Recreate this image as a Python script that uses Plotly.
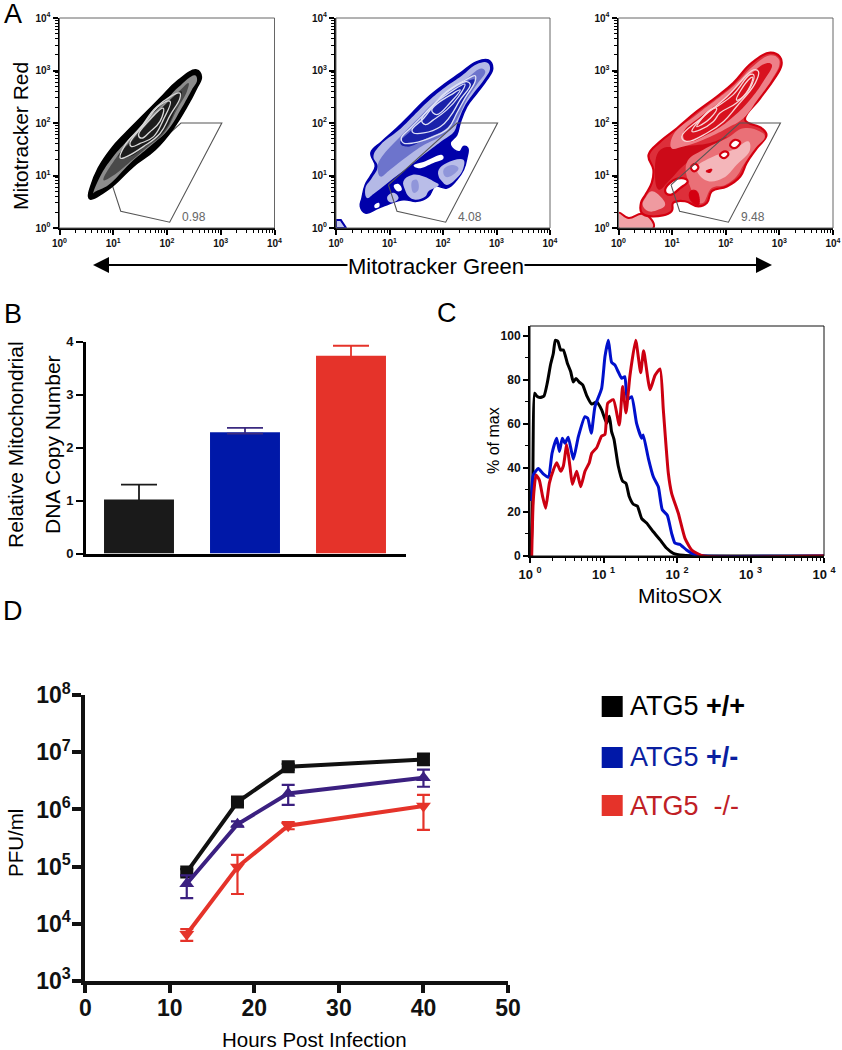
import plotly.graph_objects as go

W, H = 842, 1050
FONT = "Liberation Sans"

# ---------- Panel A: gate and contour outlines, (log10 green, log10 red) ----------
GATE = [(0.98, 0.82), (1.14, 0.32), (2.05, 0.11), (3.02, 2.0), (2.26, 2.0)]
GATE_LABELS = ["0.98", "4.08", "9.48"]

A1_OUTER = [(.54,.60),(.58,.79),(.72,1.14),(.97,1.52),(1.22,1.80),(1.56,2.15),(1.87,2.47),(2.18,2.79),(2.55,3.01),(2.64,2.88),(2.55,2.66),(2.37,2.31),(2.12,1.90),(1.78,1.49),(1.37,1.17),(.94,.76),(.57,.55)]
A1_L2 = [(.63,.66),(.755,.98),(1.0,1.36),(1.28,1.68),(1.62,2.06),(1.93,2.37),(2.21,2.68),(2.52,2.91),(2.56,2.82),(2.46,2.63),(2.27,2.28),(2.02,1.87),(1.68,1.55),(1.31,1.23),(.91,.82),(.66,.69)]
A1_L3 = [(.82,.91),(1.07,1.36),(1.34,1.68),(1.65,2.03),(1.96,2.34),(2.24,2.62),(2.40,2.76),(2.37,2.6),(2.18,2.25),(1.96,1.83),(1.65,1.55),(1.28,1.23),(.97,.98)]
A1_L4 = [(1.10,1.36),(1.37,1.68),(1.68,2.03),(1.99,2.37),(2.27,2.6),(2.15,2.25),(1.93,1.83),(1.62,1.58),(1.31,1.36)]
A1_R1 = [(1.13,1.33),(1.22,1.58),(1.5,1.9),(1.81,2.31),(2.24,2.57),(2.24,2.47),(2.06,2.15),(1.87,1.8),(1.56,1.55),(1.25,1.36)]
A1_R2 = [(1.31,1.61),(1.56,1.96),(1.87,2.34),(2.06,2.41),(1.93,2.06),(1.75,1.74),(1.5,1.61),(1.34,1.55)]
A1_R3 = [(1.47,1.77),(1.65,2.03),(1.93,2.28),(1.87,2.03),(1.68,1.83),(1.53,1.71)]

A2_OUTER = [(.454,.412),(.485,.57),(.547,.824),(.64,.983),(.734,1.173),(.653,1.439),(.858,1.648),(1.138,1.902),(1.418,2.187),(1.698,2.472),(2.009,2.726),(2.32,2.948),(2.631,3.17),(2.849,3.2),(2.93,3.043),(2.818,2.821),(2.631,2.567),(2.445,2.314),(2.32,1.997),(2.258,1.775),(2.134,1.616),(2.208,1.49),(2.32,1.458),(2.383,1.553),(2.463,1.521),(2.445,1.331),(2.383,1.109),(2.258,.919),(2.072,.761),(1.854,.792),(1.729,.602),(1.512,.507),(1.263,.539),(.952,.444),(.796,.38),(.547,.285)]
A2_PALE = [(.70,1.36),(.83,1.58),(1.17,1.86),(1.45,2.14),(1.73,2.42),(2.04,2.68),(2.35,2.90),(2.63,3.12),(2.83,3.15),(2.88,3.04),(2.77,2.83),(2.58,2.58),(2.40,2.31),(2.27,2.0),(2.21,1.84),(2.01,1.68),(1.76,1.49),(1.45,1.24),(1.08,.95),(.73,.67),(.58,.57),(.55,.76),(.67,.95),(.78,1.17)]
A2_MID = [(.86,1.36),(1.20,1.74),(1.51,2.06),(1.82,2.38),(2.13,2.63),(2.44,2.85),(2.72,3.04),(2.79,2.98),(2.63,2.73),(2.44,2.44),(2.29,2.12),(2.16,1.90),(1.95,1.74),(1.64,1.58),(1.33,1.36),(1.01,1.11),(.83,.98),(.78,1.17)]
A2_DARK = [(1.20,1.62),(1.45,1.90),(1.82,2.28),(2.13,2.57),(2.51,2.82),(2.60,2.82),(2.44,2.54),(2.26,2.19),(2.07,1.90),(1.70,1.71),(1.33,1.55)]
A2_R1 = [(1.22,1.71),(1.39,1.90),(1.76,2.28),(2.07,2.60),(2.44,2.83),(2.60,2.90),(2.60,2.79),(2.41,2.47),(2.26,2.19),(2.10,1.90),(1.82,1.74),(1.45,1.62),(1.26,1.62)]
A2_R2 = [(1.42,1.87),(1.64,2.09),(1.88,2.41),(2.13,2.63),(2.44,2.79),(2.51,2.73),(2.32,2.44),(2.13,2.12),(1.95,1.93),(1.64,1.81),(1.45,1.81)]
A2_R3 = [(1.60,2.06),(1.82,2.35),(2.13,2.58),(2.41,2.74),(2.29,2.50),(2.07,2.25),(1.82,2.06),(1.67,1.97)]
A2_R4 = [(1.79,2.25),(2.20,2.57),(2.32,2.63),(2.13,2.38),(1.88,2.16)]
A2_ISL_C = [(1.26,.89),(1.42,1.01),(1.64,.98),(1.82,.89),(1.92,.82),(1.73,.70),(1.67,.60),(1.48,.54),(1.36,.60),(1.29,.73)]
A2_MID_C = [(1.42,.89),(1.51,.92),(1.54,.73),(1.45,.67)]
A2_ISL_D = [(1.92,1.11),(2.07,1.24),(2.38,1.30),(2.38,1.14),(2.26,.95),(2.07,.82),(1.98,.89),(1.92,.98)]
A2_MID_D = [(2.01,1.11),(2.16,1.20),(2.29,1.14),(2.13,.98),(2.04,.98)]
A2_ISL_B = [(.96,.60),(1.08,.67),(1.17,.57),(1.08,.49),(.98,.51)]
A2_HOLE_1 = [(1.45,1.19),(1.67,1.27),(1.98,1.39),(2.01,1.33),(1.82,1.24),(1.54,1.14)]
A2_HOLE_2 = [(1.08,.81),(1.17,.84),(1.23,.73),(1.15,.70)]
A2_HOLE_3 = [(.72,.44),(.80,.48),(.81,.41),(.73,.38)]
A2_CORNER = [(0,.15),(.09,.15),(.19,0),(0,0)]

A3_OUTER = [(.43,.29),(.42,.48),(.50,.63),(.62,.86),(.65,1.11),(.56,1.39),(.78,1.65),(1.09,1.90),(1.46,2.22),(1.83,2.50),(2.14,2.76),(2.48,3.14),(2.83,3.34),(3.01,3.26),(3.04,3.11),(2.89,2.82),(2.64,2.47),(2.36,2.06),(2.67,1.90),(2.76,1.77),(2.58,1.52),(2.39,1.24),(2.27,.98),(2.02,.79),(1.74,.70),(1.65,.48),(1.49,.41),(1.24,.51),(1.02,.48),(.99,.32),(.62,.22)]
A3_CORNER = [(0,.29),(.19,.19),(.43,.27),(.59,.19),(.65,0),(0,0)]
A3_DEEP = [(.78,1.49),(1.15,1.55),(1.71,1.62),(2.02,1.74),(1.27,1.24),(.96,.92),(.75,.73),(.68,1.05)]
A3_BODY = [(1.27,1.24),(1.58,1.49),(2.02,1.71),(2.33,1.90),(2.64,1.84),(2.73,1.74),(2.55,1.52),(2.33,1.20),(2.20,.98),(1.99,.82),(1.74,.76),(1.58,.48),(1.49,.48),(1.37,.70)]
A3_BODY_PALE = [(1.46,1.14),(1.77,1.36),(2.14,1.49),(2.42,1.65),(2.45,1.48),(2.20,1.20),(1.95,.95),(1.65,.90)]
A3_LOW = [(.45,.44),(.50,.57),(.62,.70),(.78,.60),(.87,.44),(.75,.35),(.56,.32)]
A3_U1 = [(1.02,1.77),(1.46,2.16),(1.83,2.45),(2.17,2.73),(2.52,3.09),(2.83,3.29),(2.98,3.23),(3.0,3.11),(2.86,2.83),(2.61,2.47),(2.33,2.09),(2.02,1.90),(1.71,1.74),(1.21,1.55),(.99,1.52)]
A3_U2 = [(1.21,1.81),(1.58,2.16),(2.02,2.5),(2.45,2.92),(2.76,3.14),(2.86,3.11),(2.70,2.79),(2.45,2.44),(2.14,2.12),(1.71,1.81),(1.27,1.65)]
A3_R1 = [(1.18,1.74),(1.58,2.12),(2.02,2.50),(2.52,3.01),(2.61,2.98),(2.55,2.76),(2.20,2.31),(1.96,2.03),(1.65,1.81),(1.27,1.65)]
A3_R2 = [(1.37,1.84),(1.65,2.19),(1.83,2.31),(2.14,2.54),(2.45,2.92),(2.52,2.92),(2.45,2.66),(2.2,2.38),(1.89,2.19),(1.77,2.03),(1.52,1.87)]
A3_R3 = [(2.2,2.44),(2.42,2.82),(2.50,2.87),(2.42,2.63),(2.24,2.44)]
A3_R4 = [(1.46,1.93),(1.71,2.25),(1.83,2.28),(1.71,2.09),(1.55,1.97)]
A3_HOLE_1 = [(.87,.70),(.96,.86),(1.18,.95),(1.29,.89),(1.15,.76),(.96,.63)]
A3_HOLE_2 = [(2.08,1.58),(2.17,1.68),(2.27,1.63),(2.17,1.52)]
A3_HOLE_3 = [(1.89,1.39),(1.99,1.46),(2.05,1.41),(1.97,1.33)]
A3_HOLE_4 = [(1.35,1.15),(1.43,1.22),(1.49,1.15),(1.41,1.08)]
A3_SPOT_1 = [(1.63,1.08),(1.74,1.12),(1.71,1.06)]
A3_SPOT_2 = [(1.34,.70),(1.46,.70),(1.49,.44),(1.34,.54)]

# ---------- Panel B ----------
BAR_POS = [1, 2, 3]
BAR_VALUES = [1.02, 2.29, 3.73]
BAR_UPPER = [1.30, 2.37, 3.92]
BAR_COLORS = ["#1a1a1a", "#0018a8", "#e5332a"]
BAR_ERR_COLORS = ["#1a1a1a", "#3b2a80", "#e5332a"]

# ---------- Panel C: (log10 MitoSOX, % of max) ----------
HIST_BLACK_X = [.014,.036,.063,.09,.136,.19,.236,.28,.317,.345,.38,.417,.454,.508,.553,.59,.626,.67,.717,.77,.84,.907,.975,1.043,1.08,1.11,1.143,1.2,1.26,1.306,1.35,1.406,1.46,1.52,1.587,1.678,1.77,1.86,1.95,2.086,2.27,4]
HIST_BLACK_Y = [0,25,74,72.7,72,72.7,78.8,87,92,98,97.5,93.6,93.6,87.6,83.8,79,80.7,79,77.7,73,69,70,66.4,60.3,63.5,56.5,53,41,34,33,27,23.5,22.7,17,15,11,7.3,3.5,1.2,.3,0,0]
HIST_BLUE_X = [.014,.045,.113,.18,.25,.30,.363,.40,.44,.476,.52,.59,.658,.748,.785,.834,.884,.975,1.02,1.066,1.11,1.156,1.2,1.247,1.29,1.324,1.383,1.45,1.52,1.54,1.61,1.678,1.746,1.8,1.868,1.927,1.973,2.04,2.13,2.22,2.38,4]
HIST_BLUE_Y = [25,36.8,39.8,37.3,35.8,46.7,53.5,47.5,53.5,51.2,54,44,54.2,63.3,62.6,55.8,67.9,76.2,90.6,98,88,86.7,83.7,80.7,81.5,71,72.4,60.3,53.5,55,44.4,36,31.5,21,18.5,10.3,5.8,5.3,2.7,.9,0,0]
HIST_RED_X = [.023,.045,.082,.127,.172,.213,.263,.317,.363,.417,.454,.5,.544,.576,.635,.69,.748,.807,.84,.907,.975,1.02,1.057,1.134,1.215,1.26,1.306,1.36,1.438,1.506,1.546,1.633,1.7,1.77,1.814,1.882,1.927,2.018,2.109,2.2,2.358,4]
HIST_RED_Y = [0,25.5,36.8,34.5,27,21.7,33,39,42.4,38.5,40.9,50.6,40.6,32.6,38.5,31.5,38.5,42.4,46.7,49.2,54.5,55.2,69.4,71,59.5,77,65,82,98,83.3,93.3,75.5,82,85,66.4,37.6,28.5,19.4,8,2.7,0,0]

# ---------- Panel D ----------
HOURS = [12, 18, 24, 40]
PFU_WT = [8e4, 1.35e6, 5.6e6, 7.5e6]
PFU_WT_LO = [7e4, 1.2e6, 5e6, 6e6]
PFU_WT_HI = [9e4, 1.5e6, 6.3e6, 9.5e6]
PFU_HET = [5e4, 5.5e5, 1.9e6, 3.6e6]
PFU_HET_LO = [2.8e4, 5e5, 1.2e6, 2.5e6]
PFU_HET_HI = [7e4, 6.2e5, 2.7e6, 5e6]
PFU_KO = [6.5e3, 9.8e4, 5.2e5, 1.15e6]
PFU_KO_LO = [5e3, 3.3e4, 4.5e5, 4.4e5]
PFU_KO_HI = [8e3, 1.6e5, 6e5, 1.8e6]
LEGEND_LABELS = ["ATG5 <b>+/+</b>", "ATG5 <b>+/-</b>", "ATG5  -/-"]
LEGEND_TEXT_COLORS = ["#000000", "#0a1fa0", "#c02025"]
LEGEND_SWATCHES = ["#000000", "#0018a8", "#e5332a"]


def xdom(a, b):
    return [a / W, b / W]


def ydom(top, bottom):
    return [1 - bottom / H, 1 - top / H]


def sup(k, sep=""):
    return f"<b>10{sep}<sup>{k}</sup></b>"


def sfx(n):
    return "" if n == 1 else str(n)


MINOR_TICKS = [m * 10 ** k for k in range(4) for m in range(2, 10)]
DECADES = [1, 10, 100, 1000, 10000]

fig = go.Figure()


def log_axes(n, xd, yd, sep="", size=10):
    xa = dict(domain=xd, type="log", range=[0, 4], anchor=f"y{sfx(n)}", tickmode="array", tickvals=DECADES,
              ticktext=[sup(i, sep) for i in range(5)], ticks="outside", ticklen=5, tickwidth=1.5, automargin=False,
              tickcolor="black", showline=True, linecolor="black", linewidth=2, showgrid=False, zeroline=False,
              tickfont=dict(family=FONT, size=size, color="#111"),
              minor=dict(ticks="outside", ticklen=3, tickwidth=1, tickcolor="black", tickmode="array",
                         tickvals=MINOR_TICKS, showgrid=False))
    ya = dict(domain=yd, type="log", range=[0, 4], anchor=f"x{sfx(n)}", tickmode="array", tickvals=DECADES,
              ticktext=[sup(i) for i in range(5)], ticks="outside", ticklen=5, tickwidth=1.5, automargin=False,
              tickcolor="black", showline=True, linecolor="black", linewidth=2, showgrid=False, zeroline=False,
              tickfont=dict(family=FONT, size=size, color="#111"),
              minor=dict(ticks="outside", ticklen=3, tickwidth=1, tickcolor="black", tickmode="array",
                         tickvals=MINOR_TICKS, showgrid=False))
    fig.layout[f"xaxis{sfx(n)}"] = xa
    fig.layout[f"yaxis{sfx(n)}"] = ya


def poly(n, pts, fill=None, line=None, width=1.0, smooth=True, closed=True):
    p = list(pts) + ([pts[0]] if closed else [])
    fig.add_trace(go.Scatter(
        x=[10 ** a for a, _ in p], y=[10 ** b for _, b in p], xaxis=f"x{sfx(n)}", yaxis=f"y{sfx(n)}", mode="lines",
        line=dict(color=line or "rgba(0,0,0,0)", width=width, shape="spline" if smooth else "linear", smoothing=1.2),
        fill="toself" if fill else "none", fillcolor=fill, hoverinfo="skip", showlegend=False))


def gate(n):
    poly(n, GATE, line="#555555", width=1.1, smooth=False)


# Panel A axes
log_axes(1, xdom(59.5, 274.5), ydom(18, 228))
log_axes(2, xdom(336, 550), ydom(18, 228))
log_axes(3, xdom(618.5, 833), ydom(18, 228))

# Panel A1
gate(1)
poly(1, A1_OUTER, fill="#000000", line="#000000", width=1.5)
poly(1, A1_L2, fill="#8c8c8c")
poly(1, A1_L3, fill="#4a4a4a")
poly(1, A1_L4, fill="#1c1c1c")
for r in (A1_R1, A1_R2, A1_R3):
    poly(1, r, line="#d8d8d8", width=1.3)

# Panel A2
poly(2, A2_CORNER, fill="#c4c8ec", line="#0000aa", width=2, smooth=False)
poly(2, A2_OUTER, fill="#0000aa", line="#0000aa", width=1.5)
poly(2, A2_PALE, fill="#b4b9e6")
poly(2, A2_MID, fill="#6d74cc")
poly(2, A2_DARK, fill="#1a22aa")
for r in (A2_R1, A2_R2, A2_R3, A2_R4):
    poly(2, r, line="#dfe2f6", width=1.3)
for isl in (A2_ISL_C, A2_ISL_D, A2_ISL_B):
    poly(2, isl, fill="#b9bde8")
for m in (A2_MID_C, A2_MID_D):
    poly(2, m, fill="#9096da")
for h in (A2_HOLE_1, A2_HOLE_2, A2_HOLE_3):
    poly(2, h, fill="#ffffff")
gate(2)

# Panel A3
poly(3, A3_CORNER, fill="#f0a3a8", line="#d40010", width=2)
poly(3, A3_OUTER, fill="#dd2f3a", line="#d40010", width=2.2)
poly(3, A3_DEEP, fill="#cc0a18")
poly(3, A3_BODY, fill="#ea7077")
poly(3, A3_BODY_PALE, fill="#f4b6ba")
poly(3, A3_LOW, fill="#ef9aa0")
poly(3, A3_U1, fill="#ee8088")
poly(3, A3_U2, fill="#d8121f")
for r in (A3_R1, A3_R2, A3_R3, A3_R4):
    poly(3, r, line="#f8d5d7", width=1.3)
for h in (A3_HOLE_1, A3_HOLE_2, A3_HOLE_3, A3_HOLE_4):
    poly(3, h, fill="#ffffff", line="#d40010", width=2.2)
for s in (A3_SPOT_1, A3_SPOT_2):
    poly(3, s, fill="#d40010", line="#d40010", width=1)
gate(3)

# Panel B (the lower cap of each error bar is tucked inside its bar)
for i in range(3):
    fig.add_trace(go.Bar(x=[BAR_POS[i]], y=[BAR_VALUES[i]], xaxis="x4", yaxis="y4", width=0.66,
                         marker=dict(color=BAR_COLORS[i], line=dict(width=0)), showlegend=False, hoverinfo="skip",
                         error_y=dict(type="data", symmetric=False, array=[BAR_UPPER[i] - BAR_VALUES[i]],
                                      arrayminus=[0.03], color=BAR_ERR_COLORS[i], thickness=1.8, width=18)))
fig.update_layout(
    xaxis4=dict(domain=xdom(86, 405.7), range=[0.5, 3.516], anchor="y4", showticklabels=False, ticks="", automargin=False,
                showline=True, linecolor="black", linewidth=3, showgrid=False, zeroline=False),
    yaxis4=dict(domain=ydom(341.5, 553.5), range=[0, 4], anchor="x4", tickvals=[0, 1, 2, 3, 4], automargin=False,
                ticktext=[f"<b>{v}</b>" for v in [0, 1, 2, 3, 4]], ticks="outside", ticklen=7, tickwidth=2,
                tickcolor="black", showline=True, linecolor="black", linewidth=3, showgrid=False, zeroline=False,
                tickfont=dict(family=FONT, size=13, color="#111")),
)

# Panel C
log_axes(5, xdom(530, 824), ydom(326, 556), sep=" ", size=13)
fig.update_layout(yaxis5=dict(type="linear", range=[0, 104.5], tickmode="array", tickvals=[0, 20, 40, 60, 80, 100],
                              ticktext=[f"<b>{v}</b>" for v in [0, 20, 40, 60, 80, 100]],
                              minor=dict(ticks="outside", ticklen=3, tickwidth=1, tickcolor="black", tickmode="array",
                                         tickvals=[10, 30, 50, 70, 90], showgrid=False),
                              tickfont=dict(family=FONT, size=12, color="#111")))
for xs, ys, c in ((HIST_BLACK_X, HIST_BLACK_Y, "#000000"), (HIST_BLUE_X, HIST_BLUE_Y, "#0010cc"),
                  (HIST_RED_X, HIST_RED_Y, "#cc0011")):
    fig.add_trace(go.Scatter(x=[10 ** v for v in xs], y=ys, xaxis="x5", yaxis="y5", mode="lines",
                             line=dict(color=c, width=3, shape="spline", smoothing=0.5), hoverinfo="skip",
                             showlegend=False))

# Panel D
for y, lo, hi, c, sym in ((PFU_WT, PFU_WT_LO, PFU_WT_HI, "#111111", "square"),
                          (PFU_HET, PFU_HET_LO, PFU_HET_HI, "#3b2080", "triangle-up"),
                          (PFU_KO, PFU_KO_LO, PFU_KO_HI, "#e5332a", "triangle-down")):
    fig.add_trace(go.Scatter(x=HOURS, y=y, xaxis="x6", yaxis="y6", mode="lines+markers",
                             line=dict(color=c, width=4), marker=dict(symbol=sym, size=13, color=c),
                             error_y=dict(type="data", symmetric=False, array=[h - v for h, v in zip(hi, y)],
                                          arrayminus=[v - l for v, l in zip(y, lo)], color=c, thickness=2.2, width=6.5),
                             hoverinfo="skip", showlegend=False))
fig.update_layout(
    xaxis6=dict(domain=xdom(85.3, 508), range=[0, 50], anchor="y6", tickvals=[0, 10, 20, 30, 40, 50], automargin=False,
                ticktext=[f"<b>{v}</b>" for v in [0, 10, 20, 30, 40, 50]], ticks="outside", ticklen=8, tickwidth=4,
                tickcolor="#111", showline=True, linecolor="#111", linewidth=4, showgrid=False, zeroline=False,
                ticklabelstandoff=-4, tickfont=dict(family=FONT, size=23, color="#111")),
    yaxis6=dict(domain=ydom(695.3, 980.7), type="log", range=[3, 8], anchor="x6", tickmode="array", automargin=False,
                tickvals=[1e3, 1e4, 1e5, 1e6, 1e7, 1e8], ticktext=[f"<b>10<sup>{k}</sup></b>" for k in range(3, 9)],
                ticks="outside", ticklen=9, tickwidth=4, tickcolor="#111", showline=True, linecolor="#111", linewidth=4,
                ticklabelstandoff=-3, showgrid=False, zeroline=False, tickfont=dict(family=FONT, size=23, color="#111")),
)

# Text
ann = []


def text(s, x, y, size, color="black", angle=0, anchor="center", bg=None):
    ann.append(dict(text=s, x=x / W, y=1 - y / H, xref="paper", yref="paper", showarrow=False, xanchor=anchor,
                    yanchor="middle", textangle=angle, bgcolor=bg, borderpad=0,
                    font=dict(family=FONT, size=size, color=color)))


for s, x, y in (("A", 13, 14), ("B", 13, 314), ("C", 447, 313), ("D", 13, 611)):
    text(s, x, y, 27)
text("Mitotracker Red", 21, 136, 21, angle=-90)
text("Relative Mitochondrial", 15, 445, 21, angle=-90)
text("DNA Copy Number", 52, 445, 21, angle=-90)
text("% of max", 493, 440, 16, angle=-90)
text("MitoSOX", 680, 595, 21)
text("PFU/ml", 15, 843, 20.5, angle=-90)
text("Hours Post Infection", 314, 1039, 20.5)
for n, label in zip((1, 2, 3), GATE_LABELS):
    ann.append(dict(text=label, x=2.5, y=0.21, xref=f"x{sfx(n)}", yref=f"y{sfx(n)}", showarrow=False,
                    font=dict(family=FONT, size=12, color="#666666")))
# double-headed arrow around the shared axis title
for end in (93, 772):
    ann.append(dict(text="", x=end / W, y=1 - 265 / H, ax=436 - end, ay=0, xref="paper", yref="paper",
                    axref="pixel", ayref="pixel", showarrow=True, arrowhead=2, arrowsize=1.6, arrowwidth=2,
                    arrowcolor="black"))
text("Mitotracker Green", 436, 266, 22, bg="#ffffff")
shapes = []
for y0, y1, yc, label, tc, sc in zip((696, 747, 795), (717, 768, 816), (706, 757, 806), LEGEND_LABELS,
                                     LEGEND_TEXT_COLORS, LEGEND_SWATCHES):
    shapes.append(dict(type="rect", xref="paper", yref="paper", x0=601.7 / W, x1=622.7 / W,
                       y0=1 - y1 / H, y1=1 - y0 / H, fillcolor=sc, line=dict(width=0)))
    text(label, 629, yc, 27, color=tc, anchor="left")
# thin frames of the flow panels and histogram
for n in (1, 2, 3, 5):
    shapes.append(dict(type="rect", xref=f"x{sfx(n)} domain", yref=f"y{sfx(n)} domain", x0=0, x1=1, y0=0, y1=1,
                       line=dict(color="#666666" if n != 5 else "#111111", width=1), layer="above"))

fig.update_layout(width=W, height=H, margin=dict(l=0, r=0, t=0, b=0, pad=0, autoexpand=False), autosize=False,
                  paper_bgcolor="white", plot_bgcolor="white", annotations=ann, shapes=shapes, showlegend=False,
                  barmode="overlay")
fig.write_html("out.html", config={"displayModeBar": False},
               post_script="document.body.style.margin='0';document.documentElement.style.overflow='hidden';")
